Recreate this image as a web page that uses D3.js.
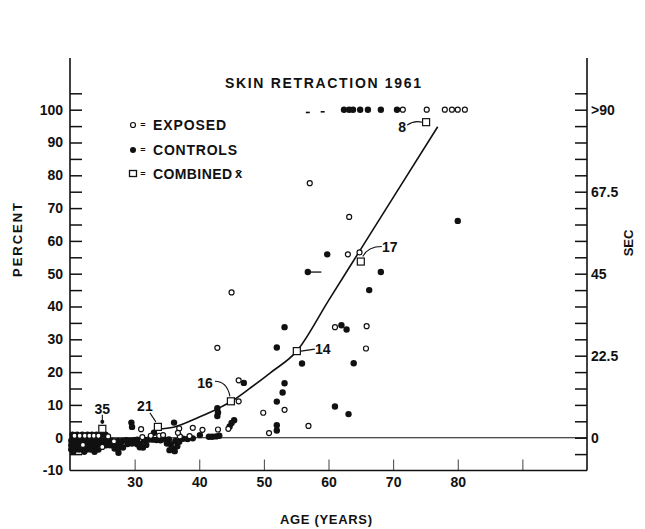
<!DOCTYPE html>
<html><head><meta charset="utf-8">
<script src="https://cdn.jsdelivr.net/npm/d3@7/dist/d3.min.js"></script>
<style>
html,body{margin:0;padding:0;background:#fff;}
svg{display:block;}
text{font-family:'Liberation Sans',Arial,sans-serif;font-weight:bold;fill:#111;}
</style></head>
<body>
<script>
// ---------- DATA ----------
const xTicks = [30,40,50,60,70,80,90];
const xTickLabels = ["30","40","50","60","70","80",""];
const pctTicks = [-10,-5,0,5,10,15,20,25,30,35,40,45,50,55,60,65,70,75,80,85,90,95,100,105];
const pctLabels = {"-10":"-10","0":"0","10":"10","20":"20","30":"30","40":"40","50":"50","60":"60","70":"70","80":"80","90":"90","100":"100"};
const secTicks = [-4.5,0,4.5,9,13.5,18,22.5,27,31.5,36,40.5,45,49.5,54,58.5,63,67.5,72,76.5,81,85.5,90,94.5];
const secLabels = {"0":"0","22.5":"22.5","45":"45","67.5":"67.5","90":">90"};

// Controls (filled circles)
const controlAge = [62.4,63.2,63.8,64.9,66.1,68.1,70.6,
  80.0,59.8,56.8,68.1,66.3,53.2,62.0,62.8,52.0,55.9,63.9,53.2,52.9,46.9,52.0,61.0,63.1,
  42.8,42.9,42.8,45.4,45.0,44.7,52.0,52.0,42.0,42.6,41.5,43.1,40.1,
  20.4,21.1,21.9,22.7,23.4,24.1,24.8,25.5,
  20.2,20.8,21.4,22.0,22.6,23.2,23.8,24.4,25.0,25.6,26.2,
  20.2,20.8,21.4,22.0,22.6,23.2,23.8,24.4,25.0,25.6,26.2,
  20.2,20.8,21.4,22.0,22.6,23.2,23.8,24.4,
  20.5,22.2,23.8,
  26.6,27.0,27.4,27.4,27.8,27.5,28.1,26.9,28.2,
  28.7,29.3,29.9,28.9,29.6,29.5,29.6,
  30.4,30.9,31.5,31.8,30.8,31.3,32.1,30.4,
  32.8,33.4,34.0,34.6,33.0,
  35.3,35.6,35.9,36.3,36.6,36.2,35.4,36.9,35.0,36.1,
  37.5,38.2,39.0];
const controlPct = [100,100,100,100,100,100,100,
  66.1,55.9,50.5,50.5,45.0,33.7,34.3,33.0,27.5,22.6,22.7,16.6,13.8,16.7,11.0,9.5,7.2,
  9.0,7.7,6.6,5.3,4.5,3.4,3.8,2.2,0.3,0.4,0.3,0.6,0.8,
  0.9,0.9,0.9,0.9,0.9,0.9,0.9,0.9,
  -0.9,-0.9,-0.9,-0.9,-0.9,-0.9,-0.9,-0.9,-0.9,-0.9,-0.9,
  -2.3,-2.3,-2.3,-2.3,-2.3,-2.3,-2.3,-2.3,-2.3,-2.3,-2.3,
  -3.6,-3.6,-3.6,-3.6,-3.6,-3.6,-3.6,-3.6,
  -4.3,-4.3,-4.3,
  -1.0,-2.2,-1.0,-3.4,-2.2,-4.6,-1.0,-3.3,-3.0,
  -0.8,-0.9,-0.8,-1.9,-1.8,4.6,3.3,
  -0.6,-1.9,-0.8,-2.2,-2.9,-3.0,-0.6,-2.0,
  -0.6,-0.7,-0.8,-0.5,1.5,
  -0.5,-2.0,-3.4,-1.0,-2.6,-4.1,-3.8,-1.2,-1.8,4.6,
  -0.3,-0.4,-0.2];

// Exposed (open circles)
const exposedAge = [71.5,75.2,78.0,79.1,80.0,81.1,
  57.1,63.2,63.0,64.8,45.0,61.0,65.9,65.8,42.8,46.1,46.1,49.9,53.2,56.9,50.8,44.5,42.9,40.5,39.0,
  20.7,21.5,22.3,23.0,23.7,24.4,25.9,26.8,22.0,25.0,
  31.0,31.2,32.5,33.8,34.4,36.9,37.0,36.7,38.5];
const exposedPct = [100,100,100,100,100,100,
  77.6,67.3,55.9,56.5,44.3,33.7,34.0,27.2,27.4,17.5,11.1,7.6,8.5,3.6,1.4,2.7,2.5,2.4,3.0,
  0.6,0.6,0.6,0.6,0.6,0.6,0.4,-1.1,-2.2,-2.8,
  2.6,0.2,0.6,0.6,0.8,2.8,0.4,1.5,0.5];

// Faint specks on the 100% row
const speckAge = [56.8,59.1];
const speckPct = [99.4,99.6];

// Control point with trailing dash
const tailAge = [56.8], tailPct = [50.5], tailToAge = [58.9];

// Combined means (squares) with group sizes
const meanAge = [25.0,33.6,44.9,55.1,65.0,75.1];
const meanPct = [2.7,3.3,11.1,26.4,53.7,96.2];
const meanN = ["35","21","16","14","17","8"];

// Fitted curve
const fitAge = [33.6,36,40,43,45,48,51,55.1,60,65,70,76.9];
const fitPct = [2.6,3.2,6.3,9.0,11.1,15.3,19.8,26.4,41.8,57.5,73.2,94.8];

// ---------- CHART ----------
const W = 645, H = 529;
const svg = d3.select("body").append("svg").attr("width",W).attr("height",H);
svg.append("rect").attr("width",W).attr("height",H).attr("fill","#fff");

const x = d3.scaleLinear().domain([20,100]).range([70,587]);
const y = d3.scaleLinear().domain([-10,100]).range([470.5,109.7]);
const ySec = d3.scaleLinear().domain([-9,90]).range([470.5,109.7]);
const topY = 58;
const FONT = "'Liberation Sans',Arial,sans-serif";

// Title
svg.append("text").attr("x",323).attr("y",88).attr("text-anchor","middle")
  .attr("font-size",14).attr("textLength",196).attr("lengthAdjust","spacing")
  .text("SKIN RETRACTION 1961");

// Left axis
const gL = svg.append("g").attr("transform","translate(70,0)")
  .call(d3.axisLeft(y).tickValues(pctTicks)
    .tickSizeInner(-12).tickSizeOuter(0).tickPadding(7)
    .tickFormat(d => pctLabels[String(d)] || ""));
gL.select(".domain").remove();
gL.selectAll(".tick").filter(d=>d===-10).select("line").remove();
gL.selectAll(".tick line").attr("stroke","#111").attr("stroke-width",1.5);
gL.selectAll(".tick text").attr("font-size",14).style("font-family",FONT).attr("font-weight","bold").attr("fill","#111");

// Right axis
const gR = svg.append("g").attr("transform","translate(587,0)")
  .call(d3.axisRight(ySec).tickValues(secTicks)
    .tickSizeInner(-12).tickSizeOuter(0).tickPadding(4)
    .tickFormat(d => secLabels[String(d)] || ""));
gR.select(".domain").remove();
gR.selectAll(".tick line").attr("stroke","#111").attr("stroke-width",1.5);
gR.selectAll(".tick text").attr("font-size",14).style("font-family",FONT).attr("font-weight","bold").attr("fill","#111");

// Bottom axis
const gB = svg.append("g").attr("transform","translate(0,470.5)")
  .call(d3.axisBottom(x).tickValues(xTicks).tickSizeInner(-11).tickSizeOuter(0).tickPadding(7)
    .tickFormat((d,i)=>xTickLabels[i]));
gB.select(".domain").remove();
gB.selectAll(".tick line").attr("stroke","#111").attr("stroke-width",0.8);
gB.selectAll(".tick text").attr("font-size",14).style("font-family",FONT).attr("font-weight","bold").attr("fill","#111");

// Frame lines
svg.append("line").attr("x1",70).attr("x2",70).attr("y1",topY).attr("y2",y(-10)).attr("stroke","#111").attr("stroke-width",1.6);
svg.append("line").attr("x1",587).attr("x2",587).attr("y1",topY).attr("y2",y(-10)).attr("stroke","#111").attr("stroke-width",1.6);
svg.append("line").attr("x1",70).attr("x2",587).attr("y1",y(-10)).attr("y2",y(-10)).attr("stroke","#111").attr("stroke-width",1.6);
// zero line
svg.append("line").attr("x1",70).attr("x2",587).attr("y1",y(0)).attr("y2",y(0)).attr("stroke","#111").attr("stroke-width",1.1);

// Axis titles
svg.append("text").attr("transform","translate(22,240) rotate(-90)").attr("text-anchor","middle")
  .attr("font-size",13).attr("textLength",74).attr("lengthAdjust","spacing").text("PERCENT");
svg.append("text").attr("transform","translate(633,243) rotate(-90)").attr("text-anchor","middle")
  .attr("font-size",13).text("SEC");
svg.append("text").attr("x",326).attr("y",524).attr("text-anchor","middle")
  .attr("font-size",13).attr("textLength",92).attr("lengthAdjust","spacing").text("AGE (YEARS)");

// Fitted curve
const fitData = fitAge.map((a,i)=>[a,fitPct[i]]);
svg.append("path").datum(fitData)
  .attr("d", d3.line().x(d=>x(d[0])).y(d=>y(d[1])).curve(d3.curveMonotoneX))
  .attr("fill","none").attr("stroke","#111").attr("stroke-width",1.6);

// Specks
svg.selectAll(".speck").data(speckAge.map((a,i)=>[a,speckPct[i]])).enter().append("rect")
  .attr("x",d=>x(d[0])-2).attr("y",d=>y(d[1])).attr("width",4).attr("height",1.6).attr("fill","#111");

// Controls
svg.selectAll(".ctrl").data(controlAge.map((a,i)=>[a,controlPct[i]])).enter().append("circle")
  .attr("cx",d=>x(d[0])).attr("cy",d=>y(d[1])).attr("r",3.2).attr("fill","#111");
// tail
svg.selectAll(".tail").data(tailAge.map((a,i)=>[a,tailPct[i],tailToAge[i]])).enter().append("line")
  .attr("x1",d=>x(d[0])).attr("x2",d=>x(d[2])).attr("y1",d=>y(d[1])).attr("y2",d=>y(d[1]))
  .attr("stroke","#111").attr("stroke-width",1.3);

// Exposed
svg.selectAll(".exp").data(exposedAge.map((a,i)=>[a,exposedPct[i]])).enter().append("circle")
  .attr("cx",d=>x(d[0])).attr("cy",d=>y(d[1])).attr("r",2.5).attr("fill","#fff").attr("stroke","#111").attr("stroke-width",1.2);

// Means (squares) + annotations
const ann = {
  "35": {dx:0, dy:-20, path:(sx,sy)=>`M ${sx} ${sy-14} L ${sx} ${sy-5}`},
  "21": {dx:-13, dy:-21, path:(sx,sy)=>`M ${sx-8} ${sy-14} L ${sx-2} ${sy-5}`},
  "16": {dx:-26, dy:-18, path:(sx,sy)=>`M ${sx-16} ${sy-20} Q ${sx-4} ${sy-20} ${sx-1} ${sy-5}`},
  "14": {dx:26, dy:-2, path:(sx,sy)=>`M ${sx+18} ${sy-2} L ${sx+4} ${sy}`},
  "17": {dx:29, dy:-15, path:(sx,sy)=>`M ${sx+21} ${sy-15} Q ${sx+7} ${sy-15} ${sx+2} ${sy-5}`},
  "8":  {dx:-24, dy:5, path:(sx,sy)=>`M ${sx-19} ${sy+3} Q ${sx-12} ${sy-2} ${sx-4} ${sy}`}
};
const means = meanAge.map((a,i)=>({a, p:meanPct[i], n:meanN[i]}));
const gm = svg.append("g");
means.forEach(m=>{
  const sx = x(m.a), sy = y(m.p), A = ann[m.n];
  gm.append("path").attr("d",A.path(sx,sy)).attr("fill","none").attr("stroke","#111").attr("stroke-width",1.1);
  gm.append("rect").attr("x",sx-3.5).attr("y",sy-3.5).attr("width",7).attr("height",7)
    .attr("fill","#fff").attr("stroke","#111").attr("stroke-width",1.2);
  gm.append("text").attr("x",sx+A.dx).attr("y",sy+A.dy).attr("dy","0.36em").attr("text-anchor","middle")
    .attr("font-size",14).text(m.n);
});
gm.append("circle").attr("cx",x(meanAge[0])).attr("cy",y(meanPct[0])-7).attr("r",2).attr("fill","#111");

// Legend
const lg = svg.append("g");
const legItems = [
  {type:"open", label:"EXPOSED", y:125, w:73},
  {type:"filled", label:"CONTROLS", y:150, w:84},
  {type:"square", label:"COMBINED", y:173.5, w:79}
];
legItems.forEach(it=>{
  if(it.type==="open") lg.append("circle").attr("cx",133).attr("cy",it.y).attr("r",2.5).attr("fill","#fff").attr("stroke","#111").attr("stroke-width",1.2);
  if(it.type==="filled") lg.append("circle").attr("cx",133).attr("cy",it.y).attr("r",3).attr("fill","#111");
  if(it.type==="square") lg.append("rect").attr("x",129.5).attr("y",it.y-3).attr("width",7).attr("height",6).attr("fill","#fff").attr("stroke","#111").attr("stroke-width",1.3);
  lg.append("text").attr("x",143).attr("y",it.y).attr("dy","0.36em").attr("text-anchor","middle").attr("font-size",9).text("=");
  lg.append("text").attr("x",153).attr("y",it.y).attr("dy","0.36em").attr("font-size",14)
    .attr("textLength",it.w).attr("lengthAdjust","spacing").text(it.label);
});
lg.append("text").attr("x",235).attr("y",173.5).attr("dy","0.36em").attr("font-size",13).text("x\u0304");
</script>
</body></html>
